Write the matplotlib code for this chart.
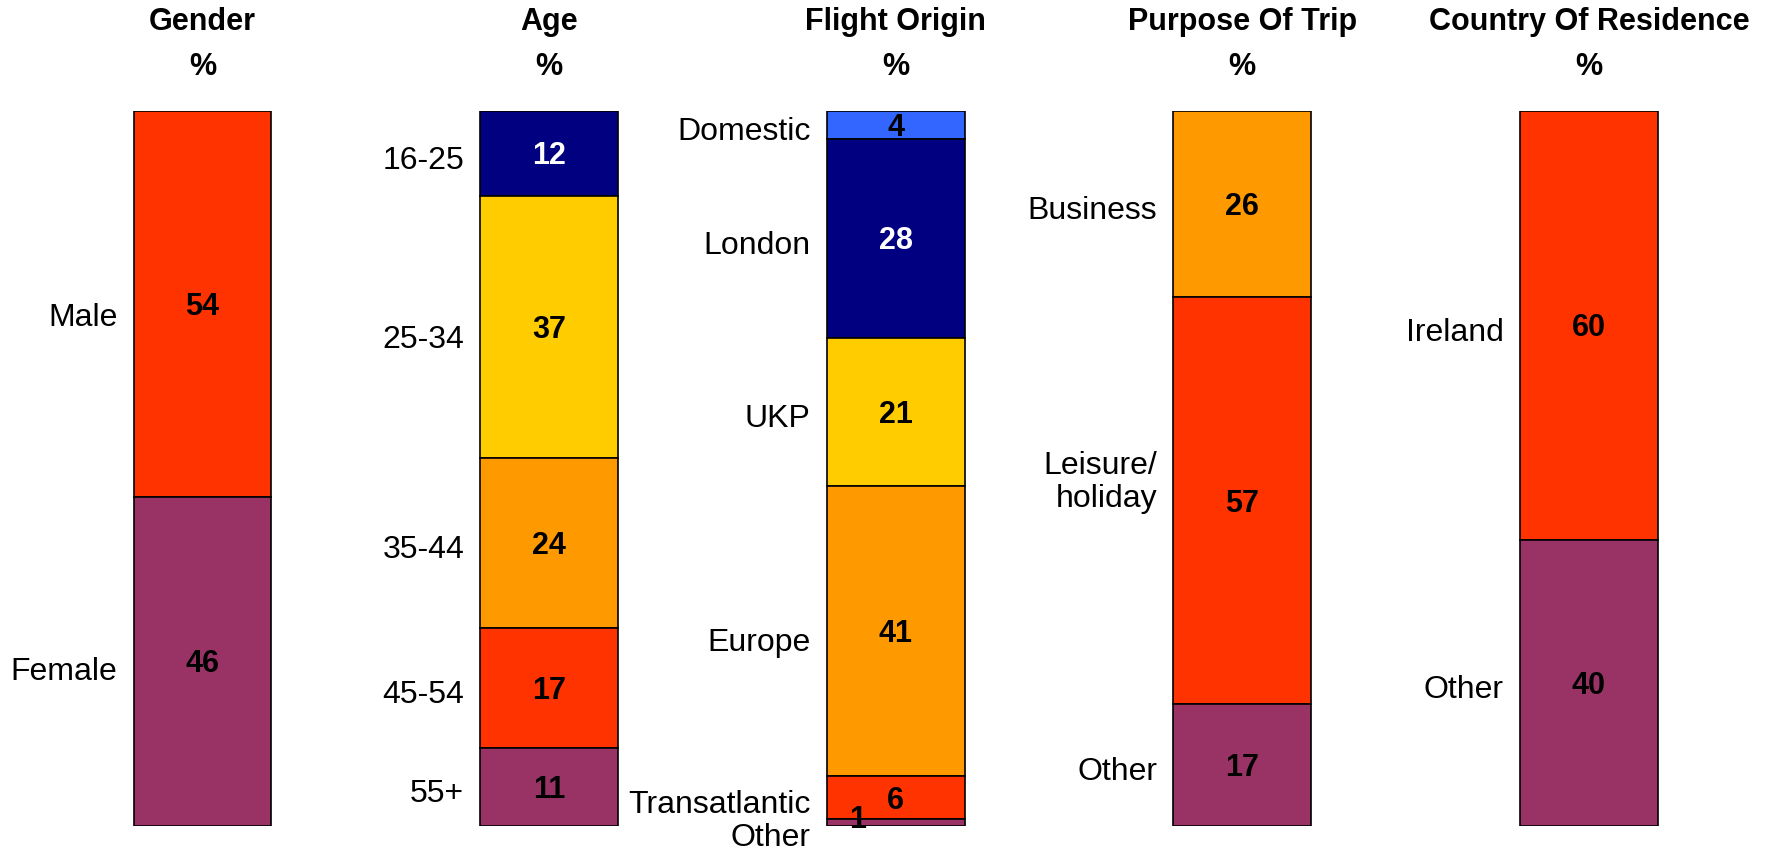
import numpy as np
import matplotlib
matplotlib.use('Agg')
import matplotlib.pyplot as plt

plt.rcParams['font.family'] = ['Liberation Sans', 'DejaVu Sans']

# data, top segment first
titles = ['Gender', 'Age', 'Flight Origin', 'Purpose Of Trip', 'Country Of Residence']

gender_labels = ['Male', 'Female']
gender_values = [54, 46]

age_labels = ['16-25', '25-34', '35-44', '45-54', '55+']
age_values = [12, 37, 24, 17, 11]

origin_labels = ['Domestic', 'London', 'UKP', 'Europe', 'Transatlantic', 'Other']
origin_values = [4, 28, 21, 41, 6, 1]

purpose_labels = ['Business', 'Leisure/\nholiday', 'Other']
purpose_values = [26, 57, 17]

country_labels = ['Ireland', 'Other']
country_values = [60, 40]

RED = '#FF3300'
PURPLE = '#993366'
NAVY = '#000080'
YELLOW = '#FFCC00'
ORANGE = '#FF9900'
BLUE = '#3366FF'

gender_colors = [RED, PURPLE]
age_colors = [NAVY, YELLOW, ORANGE, RED, PURPLE]
origin_colors = [BLUE, NAVY, YELLOW, ORANGE, RED, PURPLE]
purpose_colors = [ORANGE, RED, PURPLE]
country_colors = [RED, PURPLE]

groups = [
    (gender_labels, gender_values, gender_colors),
    (age_labels, age_values, age_colors),
    (origin_labels, origin_values, origin_colors),
    (purpose_labels, purpose_values, purpose_colors),
    (country_labels, country_values, country_colors),
]

# a few labels sit off the segment centre in the original
label_fixed = {(2, 5): -1.7, (3, 1): 48.0}
label_shift = {(0, 0): -0.9, (0, 1): -0.4, (1, 1): -0.8, (2, 3): -0.6}
value_nudge = {(2, 5): (-0.11, 0.85)}

fig = plt.figure(figsize=(17.74, 8.51), dpi=100)
ax = fig.add_axes([29.2 / 1774, 25 / 851, 1733 / 1774, 715 / 851])
ax.set_xlim(-0.5, 4.5)
ax.set_ylim(0, 100)
ax.axis('off')

bar_w = 0.398
for i, (labels, values, colors) in enumerate(groups):
    vals = np.array(values, dtype=float)
    heights = vals / vals.sum() * 100
    # stack from top down
    tops = 100 - np.concatenate([[0], np.cumsum(heights)[:-1]])
    bottoms = tops - heights
    ax.bar(np.full(len(vals), i), heights, bottom=bottoms, width=bar_w,
           color=colors, edgecolor='black', linewidth=1.2)
    for j in range(len(vals)):
        mid = bottoms[j] + heights[j] / 2
        dx, dy = value_nudge.get((i, j), (0, mid - 0.4))
        txt_color = 'white' if colors[j] == NAVY else 'black'
        ax.text(i + dx, dy, str(values[j]), ha='center', va='center',
                fontsize=22, fontweight='bold', color=txt_color)
        ly = label_fixed.get((i, j), mid - 1.0 + label_shift.get((i, j), 0))
        ax.text(i - bar_w / 2 - 0.046, ly, labels[j], ha='right', va='center',
                fontsize=23, linespacing=1.12, clip_on=False)
    ax.text(i, 112.4, titles[i], ha='center', va='center', fontsize=22,
            fontweight='bold', clip_on=False)
    ax.text(i, 106.1, '%', ha='center', va='center', fontsize=22,
            fontweight='bold', clip_on=False)

fig.savefig('out.png', dpi=100)
